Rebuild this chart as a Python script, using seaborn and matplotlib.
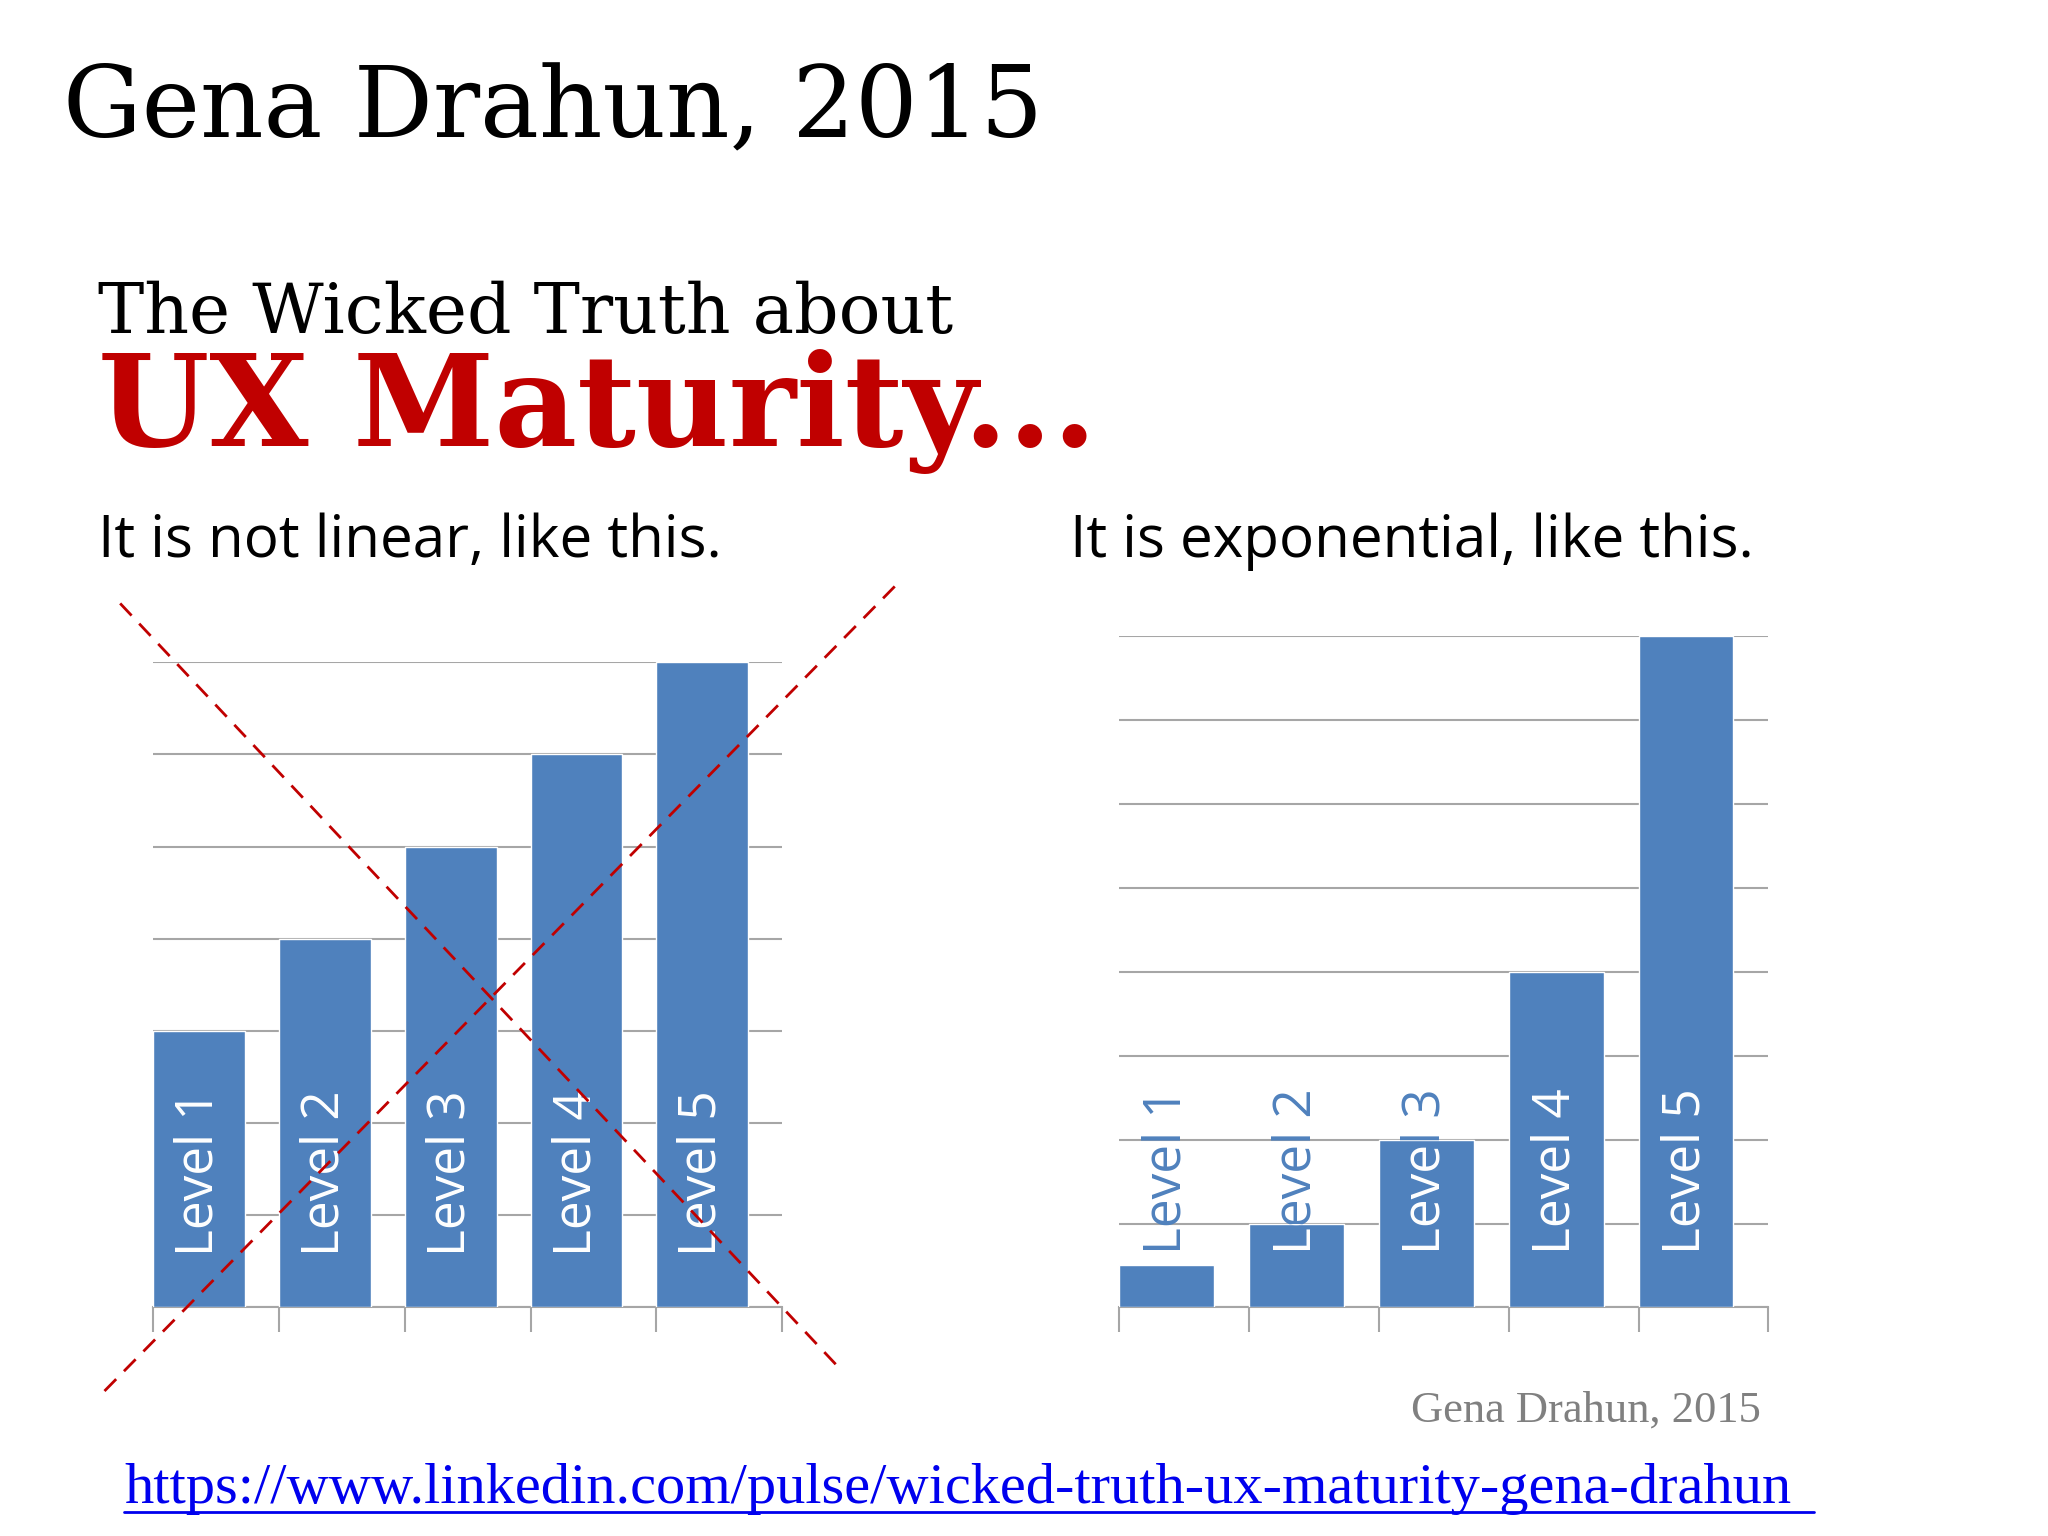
# UX maturity slide: linear vs exponential bars
import matplotlib
matplotlib.use("Agg")
import matplotlib.pyplot as plt
import seaborn as sns
import pandas as pd

sns.set_theme(style="white")
plt.rcParams['font.family'] = ['Open Sans', 'DejaVu Sans']

# data
niveis = ['Level 1', 'Level 2', 'Level 3', 'Level 4', 'Level 5']
linear = [3, 4, 5, 6, 7]
exponencial = [0.5, 1, 2, 4, 8]

AZUL = '#4F81BD'
VERMELHO = '#C00000'
CINZA = '#A6A6A6'

fig = plt.figure(figsize=(20.48, 15.36), dpi=100)
W, H = 1568, 1176  # layout measured on the reference in these units


def fx(x):
    return x / W


def fy(y):
    return 1 - y / H


def desenhar(ax, valores, ymax):
    df = pd.DataFrame({'nivel': niveis, 'valor': valores})
    sns.barplot(data=df, x='nivel', y='valor', ax=ax, color=AZUL,
                saturation=1, width=0.73, zorder=3)
    # bars sit on the left edge of each slot
    ax.set_xlim(-0.365, 4.635)
    ax.set_ylim(0, ymax)
    ax.set_yticks(range(0, ymax + 1))
    ax.yaxis.grid(True, color=CINZA, linewidth=1.5, zorder=0)
    ax.set_yticklabels([])
    ax.tick_params(axis='y', length=0)
    ax.set_xticks([])
    ax.set_xticks([i - 0.365 for i in range(6)], minor=True)
    ax.tick_params(axis='x', which='minor', length=18, width=1.5,
                   color=CINZA, bottom=True)
    ax.set_xlabel('')
    ax.set_ylabel('')
    for s in ['top', 'left', 'right']:
        ax.spines[s].set_visible(False)
    ax.spines['bottom'].set_color(CINZA)
    ax.spines['bottom'].set_linewidth(1.5)
    ax.set_facecolor('white')
    # labels: blue outside the bar, white inside it
    for i, barra in enumerate(ax.patches[:len(niveis)]):
        for cor, clip in [(AZUL, None), ('white', barra)]:
            t = ax.text(i, 0.08, niveis[i], rotation=90, ha='center',
                        va='bottom', fontsize=37, color=cor, zorder=4,
                        transform=ax.get_xaxis_transform())
            if clip is not None:
                t.set_clip_on(True)
                t.set_clip_path(clip)


ax1 = fig.add_axes([fx(117), fy(1001), fx(482), 494 / H])
desenhar(ax1, linear, 7)
ax2 = fig.add_axes([fx(857), fy(1001), fx(497), 514 / H])
desenhar(ax2, exponencial, 8)

# dashed red cross over the left chart
fig.add_artist(plt.Line2D([fx(92), fx(645)], [fy(462), fy(1050)], color=VERMELHO,
                          linestyle=(0, (6, 4)), linewidth=2, zorder=10))
fig.add_artist(plt.Line2D([fx(80), fx(686)], [fy(1065), fy(448)], color=VERMELHO,
                          linestyle=(0, (6, 4)), linewidth=2, zorder=10))

# texts
fig.text(fx(48), fy(85), 'Gena Drahun, 2015', family='DejaVu Serif',
         fontsize=71, va='center', color='black')
fig.text(fx(75), fy(240), 'The Wicked Truth about', family='DejaVu Serif',
         fontsize=50, va='center', color='black')
fig.text(fx(75), fy(315), 'UX Maturity...', family='DejaVu Serif',
         fontsize=92, fontweight='heavy', va='center', color=VERMELHO)
fig.text(fx(75), fy(415), 'It is not linear, like this.', fontsize=42,
         va='center', color='black')
fig.text(fx(819), fy(415), 'It is exponential, like this.', fontsize=42,
         va='center', color='black')
fig.text(fx(1348), fy(1080), 'Gena Drahun, 2015', family='Liberation Serif',
         fontsize=32, ha='right', va='center', color='#808080')
fig.text(fx(95), fy(1140), 'https://www.linkedin.com/pulse/wicked-truth-ux-maturity-gena-drahun',
         family='Liberation Serif', fontsize=42, va='center', color='#0000EE')
fig.add_artist(plt.Line2D([fx(95), fx(1389)], [fy(1158), fy(1158)],
                          color='#0000EE', linewidth=2))

fig.savefig('out.png', dpi=100, facecolor='white')
